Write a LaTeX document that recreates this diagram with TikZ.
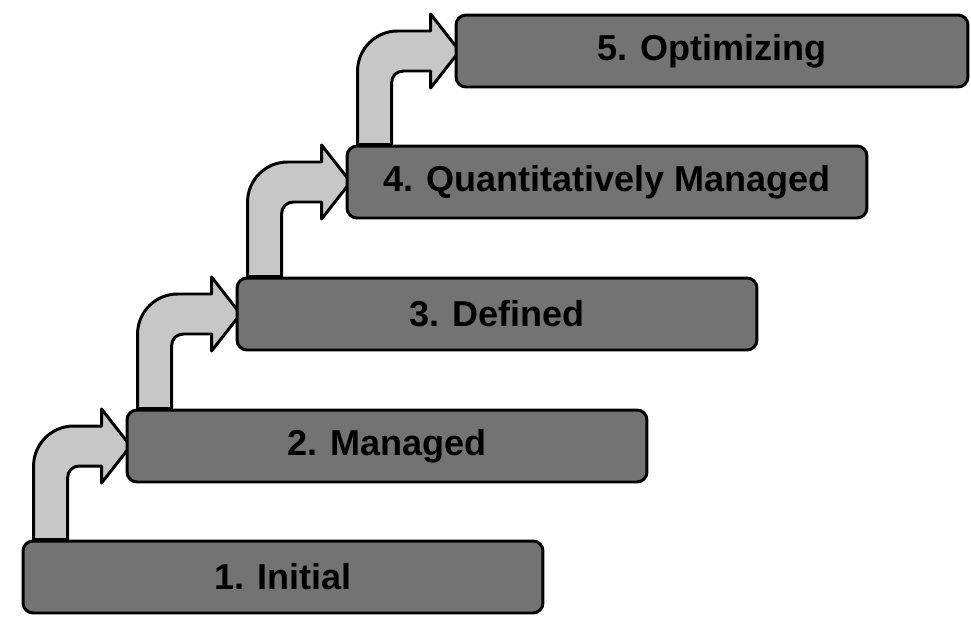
\documentclass[tikz,border=0pt]{standalone}
\usepackage{fontspec}
\setmainfont{Liberation Sans}
\usetikzlibrary{calc,backgrounds}

\begin{document}
\begin{tikzpicture}[
    x=0.02cm,
    y=-0.02cm,
    level/.style={
        draw,
        line width=1.7pt,
        rounded corners=0.2cm,
        fill=black!55,
        minimum width=10.4cm,
        minimum height=1.44cm,
        inner sep=0pt,
        font=\bfseries\fontsize{20.5}{24}\selectfont
    },
    bentarrow/.style={
        draw,
        line width=1.7pt,
        line join=round,
        fill=black!22
    }
]

\useasboundingbox (0,0) rectangle (971,616);

% ============================================================
% Maturity levels
% ============================================================

\node[level] (initial) at (283,577) {1. Initial};

\node[level] (managed) at (387,446) {2. Managed};

\node[level] (defined) at (497,314) {3. Defined};

\node[level] (quant) at (607,182) {4. Quantitatively Managed};

% Last box stops at the right margin
\node[
    level,
    minimum width=10.24cm
] (optim) at (712,51) {5. Optimizing};

% ============================================================
% Bent arrows (behind the boxes)
% ============================================================

\coordinate (s1) at ($(initial.north west)+(12,0)$);
\coordinate (c1) at (s1 |- managed.west);
\coordinate (s2) at ($(managed.north west)+(12,0)$);
\coordinate (c2) at (s2 |- defined.west);
\coordinate (s3) at ($(defined.north west)+(12,0)$);
\coordinate (c3) at (s3 |- quant.west);
\coordinate (s4) at ($(quant.north west)+(12,0)$);
\coordinate (c4) at (s4 |- optim.west);

\begin{pgfonlayer}{background}

\draw[bentarrow]
    (s1) -- ($(c1)+(0,20)$)
    .. controls ($(c1)+(0,-2)$) and ($(c1)+(18,-20)$) .. ($(c1)+(40,-20)$)
    -- ($(managed.west)+(-24,-20)$)
    -- ($(managed.west)+(-24,-37)$)
    -- ($(managed.west)+(5,0)$)
    -- ($(managed.west)+(-24,37)$)
    -- ($(managed.west)+(-24,20)$)
    -- ($(c1)+(46,20)$)
    .. controls ($(c1)+(39,20)$) and ($(c1)+(34,25)$) .. ($(c1)+(34,32)$)
    -- ($(s1)+(34,0)$)
    -- cycle;

\draw[bentarrow]
    (s2) -- ($(c2)+(0,20)$)
    .. controls ($(c2)+(0,-2)$) and ($(c2)+(18,-20)$) .. ($(c2)+(40,-20)$)
    -- ($(defined.west)+(-24,-20)$)
    -- ($(defined.west)+(-24,-37)$)
    -- ($(defined.west)+(5,0)$)
    -- ($(defined.west)+(-24,37)$)
    -- ($(defined.west)+(-24,20)$)
    -- ($(c2)+(46,20)$)
    .. controls ($(c2)+(39,20)$) and ($(c2)+(34,25)$) .. ($(c2)+(34,32)$)
    -- ($(s2)+(34,0)$)
    -- cycle;

\draw[bentarrow]
    (s3) -- ($(c3)+(0,20)$)
    .. controls ($(c3)+(0,-2)$) and ($(c3)+(18,-20)$) .. ($(c3)+(40,-20)$)
    -- ($(quant.west)+(-24,-20)$)
    -- ($(quant.west)+(-24,-37)$)
    -- ($(quant.west)+(5,0)$)
    -- ($(quant.west)+(-24,37)$)
    -- ($(quant.west)+(-24,20)$)
    -- ($(c3)+(46,20)$)
    .. controls ($(c3)+(39,20)$) and ($(c3)+(34,25)$) .. ($(c3)+(34,32)$)
    -- ($(s3)+(34,0)$)
    -- cycle;

\draw[bentarrow]
    (s4) -- ($(c4)+(0,20)$)
    .. controls ($(c4)+(0,-2)$) and ($(c4)+(18,-20)$) .. ($(c4)+(40,-20)$)
    -- ($(optim.west)+(-24,-20)$)
    -- ($(optim.west)+(-24,-37)$)
    -- ($(optim.west)+(5,0)$)
    -- ($(optim.west)+(-24,37)$)
    -- ($(optim.west)+(-24,20)$)
    -- ($(c4)+(46,20)$)
    .. controls ($(c4)+(39,20)$) and ($(c4)+(34,25)$) .. ($(c4)+(34,32)$)
    -- ($(s4)+(34,0)$)
    -- cycle;

\end{pgfonlayer}

\end{tikzpicture}
\end{document}
